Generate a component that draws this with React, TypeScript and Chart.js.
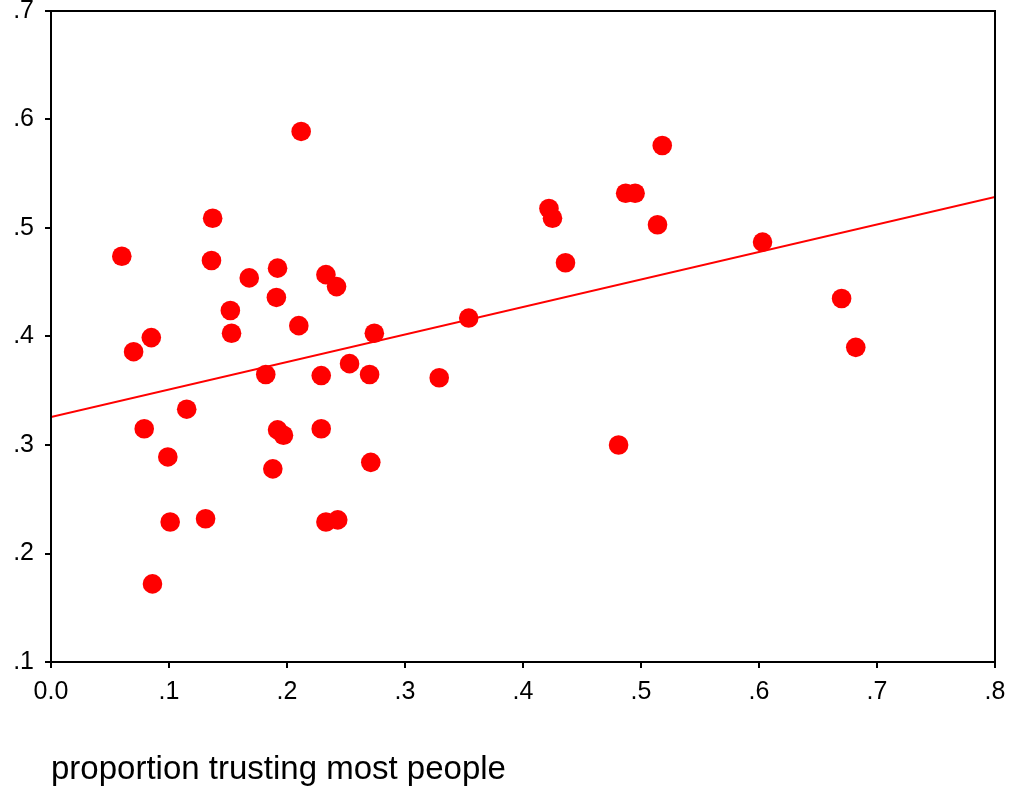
import React, { useEffect, useRef } from "react";
import { Chart, registerables } from "chart.js";

Chart.register(...registerables);

// proportion trusting most people (x) vs outcome (y)
const trustX = [
  0.060, 0.070, 0.085, 0.079, 0.086, 0.099, 0.101, 0.115, 0.131, 0.136,
  0.137, 0.152, 0.153, 0.168, 0.182, 0.188, 0.191, 0.192, 0.192, 0.197,
  0.210, 0.212, 0.229, 0.229, 0.233, 0.242, 0.233, 0.243, 0.253, 0.270,
  0.271, 0.274, 0.329, 0.354, 0.422, 0.425, 0.436, 0.481, 0.487, 0.495,
  0.514, 0.518, 0.603, 0.670, 0.682,
];
const outcomeY = [
  0.474, 0.386, 0.399, 0.315, 0.172, 0.289, 0.229, 0.333, 0.232, 0.470,
  0.509, 0.424, 0.403, 0.454, 0.365, 0.278, 0.436, 0.463, 0.314, 0.309,
  0.410, 0.589, 0.315, 0.364, 0.457, 0.446, 0.229, 0.231, 0.375, 0.365,
  0.284, 0.403, 0.362, 0.417, 0.518, 0.509, 0.468, 0.300, 0.532, 0.532,
  0.503, 0.576, 0.487, 0.435, 0.390,
];

// fitted regression line end points
const fitX = [0.0, 0.8];
const fitY = [0.3258, 0.5286];

const xTickLabels = ["0.0", ".1", ".2", ".3", ".4", ".5", ".6", ".7", ".8"];
const yTickLabels = ["0.0", ".1", ".2", ".3", ".4", ".5", ".6", ".7"];
const xTitle = "proportion trusting most people";

const FONT = '"Liberation Sans", Arial, Helvetica, sans-serif';

const frame = {
  id: "frame",
  afterDraw(chart: any) {
    const { ctx, chartArea } = chart;
    ctx.save();
    ctx.strokeStyle = "#000";
    ctx.lineWidth = 2;
    ctx.strokeRect(
      chartArea.left,
      chartArea.top,
      chartArea.right - chartArea.left,
      chartArea.bottom - chartArea.top
    );
    ctx.restore();
  },
};

export default function App() {
  const ref = useRef<HTMLCanvasElement | null>(null);

  useEffect(() => {
    if (!ref.current) return;
    const points = trustX.map((x, i) => ({ x, y: outcomeY[i] }));
    const line = fitX.map((x, i) => ({ x, y: fitY[i] }));
    const chart = new Chart(ref.current, {
      type: "scatter",
      data: {
        datasets: [
          {
            type: "line",
            data: line,
            borderColor: "#ff0000",
            borderWidth: 2,
            pointRadius: 0,
            fill: false,
            order: 0,
          } as any,
          {
            data: points,
            backgroundColor: "#ff0000",
            borderWidth: 0,
            pointRadius: 9.8,
            pointHoverRadius: 9.8,
            order: 1,
          },
        ],
      },
      options: {
        animation: false,
        responsive: true,
        maintainAspectRatio: false,
        layout: { padding: { left: 0, top: 11, right: 16, bottom: 0 } },
        plugins: {
          legend: { display: false },
          tooltip: { enabled: false },
        },
        scales: {
          x: {
            type: "linear",
            min: 0,
            max: 0.8,
            grid: {
              display: true,
              drawOnChartArea: false,
              drawTicks: true,
              tickLength: 6,
              color: "#000",
              lineWidth: 2,
            },
            border: { display: true, color: "#000", width: 2 },
            ticks: {
              stepSize: 0.1,
              padding: 9,
              color: "#000",
              font: { family: FONT, size: 25 },
              maxRotation: 0,
              autoSkip: false,
              callback: (v: any) => xTickLabels[Math.round(Number(v) * 10)] ?? "",
            },
            title: {
              display: true,
              text: xTitle,
              align: "start",
              color: "#000",
              font: { family: FONT, size: 33 },
              padding: { top: 0, bottom: 3 },
            },
            afterFit: (s: any) => {
              s.height = 131;
              s.paddingLeft = 0;
              s.paddingRight = 0;
            },
          },
          y: {
            type: "linear",
            min: 0.1,
            max: 0.7,
            grid: {
              display: true,
              drawOnChartArea: false,
              drawTicks: true,
              tickLength: 6,
              color: "#000",
              lineWidth: 2,
            },
            border: { display: true, color: "#000", width: 2 },
            ticks: {
              stepSize: 0.1,
              padding: 11,
              color: "#000",
              font: { family: FONT, size: 25 },
              autoSkip: false,
              callback: (v: any) => yTickLabels[Math.round(Number(v) * 10)] ?? "",
            },
            afterFit: (s: any) => {
              s.width = 51;
              s.paddingTop = 0;
              s.paddingBottom = 0;
            },
          },
        },
      },
      plugins: [frame],
    });
    return () => chart.destroy();
  }, []);

  return (
    <div
      style={{
        position: "fixed",
        left: 0,
        top: 0,
        width: 1011,
        height: 793,
        background: "#fff",
      }}
    >
      <canvas ref={ref} />
    </div>
  );
}
